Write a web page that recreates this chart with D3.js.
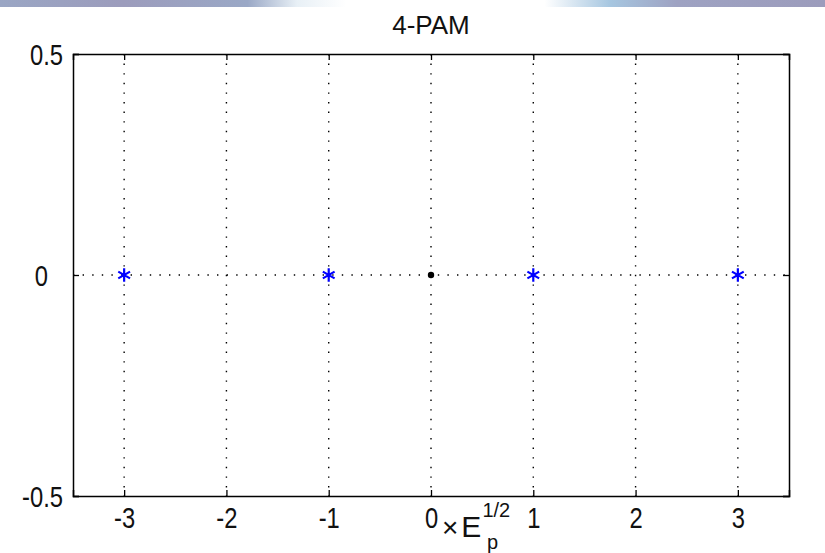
<!DOCTYPE html>
<html>
<head>
<meta charset="utf-8">
<script src="https://cdn.jsdelivr.net/npm/d3@7"></script>
<style>
  body { margin: 0; background: #fff; }
  svg text { font-family: "Liberation Sans", Arial, sans-serif; fill: #111; }
</style>
</head>
<body>
<svg id="chart" width="825" height="553"></svg>
<script>
// constellation points (in units of sqrt(Ep))
const symbols = [-3, -1, 1, 3];
const origin = [0];
const xTicks = [-3, -2, -1, 0, 1, 2, 3];
const yTicks = [-0.5, 0, 0.5];
const yTickLabels = ["-0.5", "0", "0.5"];

const margin = {top: 54, right: 36, bottom: 57, left: 73};
const width = 825 - margin.left - margin.right,
      height = 553 - margin.top - margin.bottom;

const svg = d3.select("#chart");

// top banner strip
const grad = svg.append("defs").append("linearGradient").attr("id", "band");
[[0, "#9aa6c4"], [0.15, "#9c9cbc"], [0.3, "#9aa8c6"], [0.36, "#e8f0f6"], [0.42, "#ffffff"],
 [0.66, "#ffffff"], [0.74, "#a6c6e0"], [0.82, "#9ea2c2"], [1, "#9c9cbc"]]
  .forEach(s => grad.append("stop").attr("offset", s[0]).attr("stop-color", s[1]));
svg.append("rect").attr("width", 825).attr("height", 7).attr("fill", "url(#band)");

const x = d3.scaleLinear().domain([-3.5, 3.5]).range([0, width]);
const y = d3.scaleLinear().domain([-0.5, 0.5]).range([height, 0]);

const g = svg.append("g").attr("transform", "translate(" + margin.left + "," + margin.top + ")");

// dotted grid
g.selectAll(".vgrid").data(xTicks).enter().append("line")
  .attr("x1", d => x(d)).attr("x2", d => x(d))
  .attr("y1", 0).attr("y2", height)
  .attr("stroke", "#000").attr("stroke-width", 1.4)
  .attr("stroke-dasharray", "1.4,8.2");
g.selectAll(".hgrid").data([0]).enter().append("line")
  .attr("x1", 0).attr("x2", width)
  .attr("y1", d => y(d)).attr("y2", d => y(d))
  .attr("stroke", "#000").attr("stroke-width", 1.4)
  .attr("stroke-dasharray", "1.4,8.2");

// axes, ticks inward (box style)
const tl = 6;
g.append("g").attr("class", "xb").attr("transform", "translate(0," + height + ")")
  .call(d3.axisBottom(x).tickValues(xTicks).tickSize(-tl).tickPadding(0).tickFormat(d => String(d)));
g.append("g")
  .call(d3.axisTop(x).tickValues(xTicks).tickSize(-tl).tickFormat(""));
g.append("g").attr("class", "yl")
  .call(d3.axisLeft(y).tickValues(yTicks).tickSize(-tl).tickPadding(0)
    .tickFormat((d, i) => yTickLabels[i]));
g.append("g").attr("transform", "translate(" + width + ",0)")
  .call(d3.axisRight(y).tickValues(yTicks).tickSize(-tl).tickFormat(""));

g.selectAll(".domain").attr("stroke", "#000").attr("stroke-width", 1.5);
g.selectAll(".tick line").attr("stroke", "#000").attr("stroke-width", 1.3);
g.selectAll(".tick text").style("font-size", "29px").attr("fill", "#111");
// narrow the tick digits like the original
g.selectAll(".xb .tick text").attr("y", 0).attr("dy", 0)
  .attr("transform", "translate(0,32) scale(0.82,1)");
// MATLAB pads the "0" label, so it sits further left
g.selectAll(".yl .tick text").attr("x", 0).attr("dy", "0.36em")
  .attr("transform", d => "translate(" + (d === 0 ? -25 : -10) + ",0) scale(0.82,1)");

// asterisk markers
const star = d3.symbol().type(d3.symbolAsterisk).size(130);
g.selectAll(".sym").data(symbols).enter().append("path")
  .attr("transform", d => "translate(" + x(d) + "," + y(0) + ")")
  .attr("d", star)
  .attr("stroke", "#0000ff").attr("stroke-width", 2.2).attr("fill", "none");
g.selectAll(".orig").data(origin).enter().append("circle")
  .attr("cx", d => x(d)).attr("cy", y(0)).attr("r", 3.2)
  .attr("fill", "#000");

// title
svg.append("text")
  .attr("x", margin.left + width / 2).attr("y", 34)
  .attr("text-anchor", "middle").style("font-size", "26px")
  .text("4-PAM");

// x label: × E_p^(1/2)
const xl = svg.append("text").attr("x", 442).attr("y", 537).style("font-size", "30px");
xl.append("tspan").text("×").style("font-size", "28px");
xl.append("tspan").attr("dx", 3).text("E");
xl.append("tspan").attr("dx", 1).attr("dy", -20).style("font-size", "20px").text("1/2");
svg.append("text").attr("x", 487).attr("y", 549).style("font-size", "20px").text("p");
</script>
</body>
</html>
